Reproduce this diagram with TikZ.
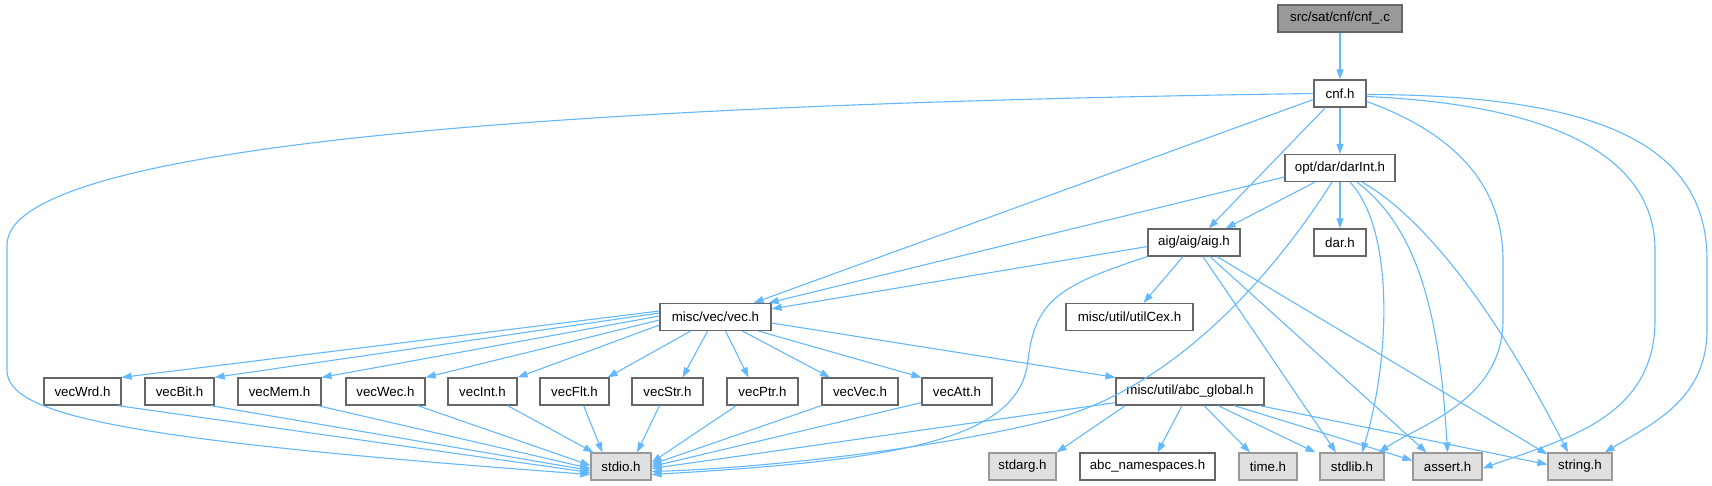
\documentclass[tikz,border=0pt]{standalone}
\usepackage{fontspec}
\setmainfont{Liberation Sans}
\usetikzlibrary{arrows.meta,calc}
\definecolor{edgec}{HTML}{63B8FF}
\definecolor{bord}{HTML}{666666}
\definecolor{sysb}{HTML}{999999}
\definecolor{sysf}{HTML}{E0E0E0}
\definecolor{rootf}{HTML}{999999}
\begin{document}
\begin{tikzpicture}[x=1pt,y=-1pt,
  every node/.style={font=\fontsize{13.3}{16}\selectfont},
  nd/.style={draw=bord,fill=white,line width=1.2pt,minimum height=27pt,inner sep=0pt,anchor=center},
  sysnd/.style={nd,draw=sysb,fill=sysf},
  rootnd/.style={nd,fill=rootf},
  edge/.style={draw=edgec,line width=1.1pt,-{Triangle[length=10pt,width=7pt]}}]
\useasboundingbox (0,0) rectangle (1712,485);
% nodes
\node[rootnd,minimum width=124] (cfile) at (1340,18.5) {src/sat/cnf/cnf\_.c};
\node[nd,minimum width=52] (cnf) at (1340,93.5) {cnf.h};
\node[nd,minimum width=110] (darint) at (1340,168) {opt/dar/darInt.h};
\node[nd,minimum width=92] (aig) at (1194,242.5) {aig/aig/aig.h};
\node[nd,minimum width=52] (dar) at (1340,242.5) {dar.h};
\node[nd,minimum width=111] (vec) at (715.5,317) {misc/vec/vec.h};
\node[nd,minimum width=127] (utilcex) at (1129.5,317) {misc/util/utilCex.h};
\node[nd,minimum width=77] (vecwrd) at (82.5,391.5) {vecWrd.h};
\node[nd,minimum width=69] (vecbit) at (179.5,391.5) {vecBit.h};
\node[nd,minimum width=83] (vecmem) at (279.5,391.5) {vecMem.h};
\node[nd,minimum width=79] (vecwec) at (385.5,391.5) {vecWec.h};
\node[nd,minimum width=69] (vecint) at (482.5,391.5) {vecInt.h};
\node[nd,minimum width=69] (vecflt) at (574.5,391.5) {vecFlt.h};
\node[nd,minimum width=71] (vecstr) at (667.5,391.5) {vecStr.h};
\node[nd,minimum width=71] (vecptr) at (762.5,391.5) {vecPtr.h};
\node[nd,minimum width=76] (vecvec) at (860,391.5) {vecVec.h};
\node[nd,minimum width=70] (vecatt) at (957,391.5) {vecAtt.h};
\node[nd,minimum width=148] (abcglobal) at (1190,391.5) {misc/util/abc\_global.h};
\node[sysnd,minimum width=60] (stdio) at (621,466.5) {stdio.h};
\node[sysnd,minimum width=67] (stdarg) at (1022.5,466.5) {stdarg.h};
\node[nd,minimum width=135] (abcns) at (1147.5,466.5) {abc\_namespaces.h};
\node[sysnd,minimum width=58] (time) at (1268,466.5) {time.h};
\node[sysnd,minimum width=64] (stdlib) at (1352,466.5) {stdlib.h};
\node[sysnd,minimum width=69] (assert) at (1447.5,466.5) {assert.h};
\node[sysnd,minimum width=64] (string) at (1580,466.5) {string.h};
% root
\draw[edge] (cfile) -- (cnf);
% cnf.h
\draw[edge] (cnf.west) .. controls (500,105) and (7,150) .. (7,245) -- (7,370) .. controls (7,415) and (120,440) .. ([yshift=-8]stdio.west);
\draw[edge] ([yshift=-6]cnf.west) -- ([xshift=-18]vec.north east);
\draw[edge] ([xshift=12]cnf.south west) -- ([xshift=-32]aig.north east);
\draw[edge] (cnf) -- (darint);
\draw[edge] ([yshift=-8]cnf.east) .. controls (1460,135) and (1503,190) .. (1503,260) -- (1503,320) .. controls (1503,400) and (1420,425) .. ([xshift=-6]stdlib.north east);
\draw[edge] ([yshift=-3]cnf.east) .. controls (1560,105) and (1655,160) .. (1655,250) -- (1655,320) .. controls (1655,420) and (1560,440) .. ([yshift=-2]assert.east);
\draw[edge] ([yshift=-1]cnf.east) .. controls (1610,95) and (1707,150) .. (1707,260) -- (1707,330) .. controls (1707,400) and (1650,425) .. ([xshift=-8]string.north east);
% darInt.h
\draw[edge] (darint) -- (dar);
\draw[edge] ([xshift=-25]darint.south) -- ([xshift=-15]aig.north east);
\draw[edge] ([yshift=-9]darint.west) -- ([xshift=-3]vec.north east);
\draw[edge] ([xshift=-8]darint.south) .. controls (1270,280) and (1170,390) .. (1050,420) .. controls (930,450) and (760,468) .. ([yshift=-5]stdio.east);
\draw[edge] ([xshift=10]darint.south) .. controls (1395,230) and (1390,360) .. ([xshift=10]stdlib.north);
\draw[edge] ([xshift=17]darint.south) .. controls (1420,230) and (1440,320) .. (assert.north);
\draw[edge] ([xshift=22]darint.south) .. controls (1420,215) and (1490,300) .. ([xshift=-12]string.north);
% aig.h
\draw[edge] ([xshift=-11]aig.south) -- ([xshift=14]utilcex.north);
\draw[edge] ([yshift=-4]aig.west) -- ([yshift=-6]vec.north east);
\draw[edge] (aig.south west) .. controls (1060,285) and (1035,300) .. (1028,360) .. controls (1020,440) and (900,460) .. ([yshift=-8]stdio.east);
\draw[edge] ([xshift=9]aig.south) -- ([xshift=-16]stdlib.north);
\draw[edge] ([xshift=16]aig.south) -- ([xshift=-21]assert.north);
\draw[edge] ([xshift=23]aig.south) -- ([yshift=-2]string.north west);
% vec.h
\draw[edge] ([yshift=6]vec.west) -- (vecwrd.north east);
\draw[edge] ([yshift=4]vec.west) -- (vecbit.north east);
\draw[edge] ([yshift=1]vec.west) -- (vecmem.north east);
\draw[edge] ([yshift=-3]vec.west) -- (vecwec.north east);
\draw[edge] ([yshift=-8]vec.west) -- (vecint.north east);
\draw[edge] ([xshift=-25]vec.south) -- ([xshift=-2]vecflt.north east);
\draw[edge] ([xshift=-8]vec.south) -- ([xshift=15]vecstr.north);
\draw[edge] ([xshift=10]vec.south) -- ([xshift=-14]vecptr.north);
\draw[edge] ([xshift=27]vec.south) -- ([xshift=-30]vecvec.north);
\draw[edge] ([xshift=43]vec.south) -- (vecatt.north west);
\draw[edge] ([yshift=-6]vec.east) -- (abcglobal.north west);
% row 3 -> stdio
\draw[edge] ([xshift=-4]vecwrd.south east) -- ([yshift=-6]stdio.west);
\draw[edge] ([xshift=-4]vecbit.south east) -- ([yshift=-4]stdio.west);
\draw[edge] ([xshift=-4]vecmem.south east) -- ([yshift=-2]stdio.west);
\draw[edge] ([xshift=-8]vecwec.south east) -- ([yshift=1]stdio.west);
\draw[edge] ([xshift=-10]vecint.south east) -- ([xshift=3]stdio.north west);
\draw[edge] ([xshift=-26]vecflt.south east) -- ([xshift=12]stdio.north west);
\draw[edge] ([xshift=-8]vecstr.south) -- ([xshift=16]stdio.north);
\draw[edge] ([xshift=10]vecptr.south west) -- ([yshift=4]stdio.east);
\draw[edge] (vecvec.south west) -- ([yshift=2]stdio.east);
\draw[edge] ([yshift=3]vecatt.south west) -- (stdio.east);
\draw[edge] ([yshift=3]abcglobal.south west) -- ([yshift=-2]stdio.east);
% abc_global
\draw[edge] ([xshift=10]abcglobal.south west) -- (stdarg.north east);
\draw[edge] ([xshift=-8]abcglobal.south) -- ([xshift=10]abcns.north);
\draw[edge] ([xshift=14]abcglobal.south) -- ([xshift=-18]time.north);
\draw[edge] ([xshift=28]abcglobal.south) -- ([xshift=-4]stdlib.north west);
\draw[edge] ([xshift=44]abcglobal.south) -- ([yshift=6]assert.west);
\draw[edge] ([xshift=-5]abcglobal.south east) -- ([yshift=2]string.west);
\end{tikzpicture}
\end{document}
